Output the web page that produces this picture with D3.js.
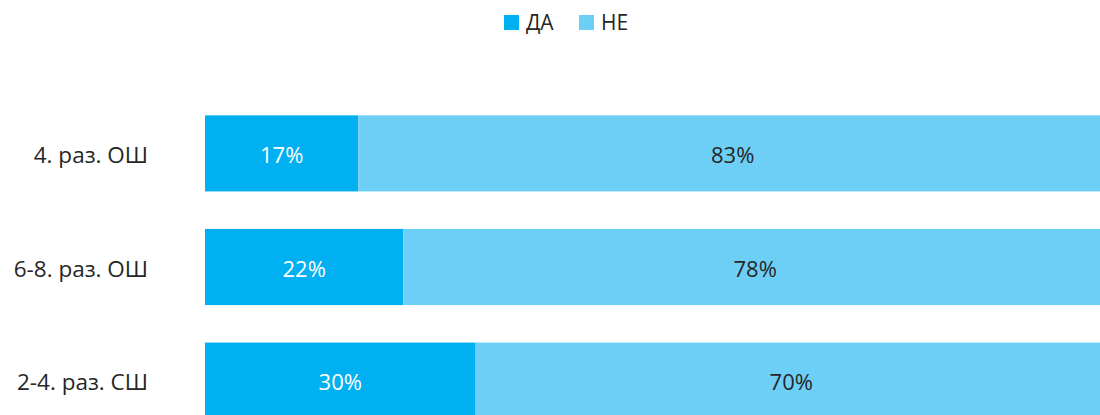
<!DOCTYPE html>
<html lang="sr">
<head>
  <meta charset="utf-8"/>
  <title>ДА / НЕ</title>
  <script src="https://d3js.org/d3.v7.min.js"></script>
  <style>
    body { margin: 0; background: #fff; }
    text { font-family: "Open Sans", "Noto Sans", sans-serif; }
  </style>
</head>
<body>
<svg id="chart" width="1100" height="415"></svg>
<script>
  // data
  const categories = ["4. раз. ОШ", "6-8. раз. ОШ", "2-4. раз. СШ"];
  const seriesNames = ["ДА", "НЕ"];
  const yes = [17, 22, 30];
  const no = [83, 78, 70];
  const colors = ["#00b0f0", "#6dcff6"];
  const labelColors = ["#ffffff", "#262626"];

  const svg = d3.select("#chart");

  const rows = categories.map((c, i) => ({ cat: c, ДА: yes[i], НЕ: no[i] }));
  const stacked = d3.stack().keys(seriesNames)(rows);

  const x = d3.scaleLinear().domain([0, 100]).range([205, 1107]);
  const y = d3.scaleBand().domain(categories).range([96, 438]).paddingInner(0.33).paddingOuter(0.17);

  const layers = svg.selectAll("g.layer").data(stacked).enter()
    .append("g").attr("class", "layer")
    .attr("fill", (d, i) => colors[i]);

  layers.selectAll("rect").data(d => d).enter()
    .append("rect")
    .attr("x", d => x(d[0]))
    .attr("y", d => y(d.data.cat))
    .attr("width", d => x(d[1]) - x(d[0]))
    .attr("height", y.bandwidth());

  layers.each(function(layer, li) {
    d3.select(this).selectAll("text").data(layer).enter()
      .append("text")
      .attr("x", d => (x(d[0]) + x(d[1])) / 2)
      .attr("y", d => y(d.data.cat) + y.bandwidth() / 2 + 2)
      .attr("dy", "0.35em")
      .attr("text-anchor", "middle")
      .attr("font-size", 22)
      .attr("fill", labelColors[li])
      .text(d => (d[1] - d[0]) + "%");
  });

  // category labels
  svg.append("g").selectAll("text").data(categories).enter()
    .append("text")
    .attr("x", 148)
    .attr("y", d => y(d) + y.bandwidth() / 2 + 2)
    .attr("dy", "0.35em")
    .attr("text-anchor", "end")
    .attr("font-size", 22.5)
    .attr("fill", "#262626")
    .text(d => d);

  // legend
  const legend = svg.append("g");
  const legendX = [504, 579];
  seriesNames.forEach((s, i) => {
    legend.append("rect")
      .attr("x", legendX[i]).attr("y", 15)
      .attr("width", 15).attr("height", 15)
      .attr("fill", colors[i]);
    legend.append("text")
      .attr("x", legendX[i] + 22).attr("y", 23)
      .attr("dy", "0.35em")
      .attr("font-size", 21)
      .attr("fill", "#262626")
      .text(s);
  });
</script>
</body>
</html>
